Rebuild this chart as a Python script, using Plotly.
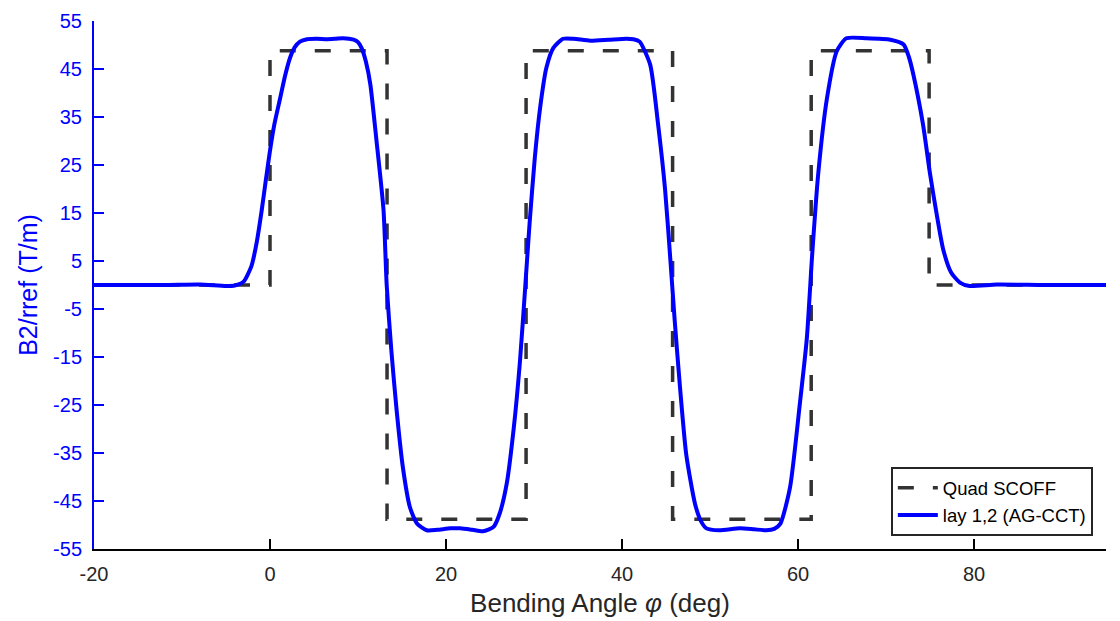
import plotly.graph_objects as go

# Quad SCOFF step profile (dashed)
quad_x = [-20, 0, 0, 13.3, 13.3, 29.1, 29.1, 45.75, 45.75, 61.5, 61.5, 74.9, 74.9, 95]
quad_y = [0, 0, 48.8, 48.8, -48.8, -48.8, 48.8, 48.8, -48.8, -48.8, 48.8, 48.8, 0, 0]

# lay 1,2 (AG-CCT) field profile (solid blue)
cct_x = [-20, -12, -8, -5, -4, -3.0, -2.1, -1.5, -0.94, -0.5, 0, 0.5, 1.14, 1.7, 2.27,
         2.8, 3.4, 4.2, 5.3, 6.5, 7.5, 8.3, 9.5, 10.0, 10.4, 10.9, 11.4, 12.1, 12.9,
         13.26, 13.8, 14.4, 15.1, 15.9, 16.7, 17.8, 19.0, 20.5, 21.6, 23.0, 24.2, 25.4,
         26.1, 26.9, 27.7, 28.4, 29.0, 29.5, 30.1, 30.7, 31.4, 32.2, 33.3, 34.5, 36.4,
         38.5, 40.5, 41.3, 42.0, 43.2, 44.1, 44.9, 45.6, 46.0, 46.6, 47.3, 48.3, 49.0,
         49.6, 51.0, 53.4, 55.0, 56.4, 57.3, 58.0, 59.1, 60.2, 61.0, 61.6, 62.3, 63.3,
         64.4, 65.5, 67.8, 70.5, 72.0, 72.6, 73.1, 74.2, 75.0, 75.8, 76.5, 77.4, 78.4,
         79.5, 82.6, 88, 95]
cct_y = [0, 0, 0.1, -0.2, -0.1, 0.7, 4.0, 9.0, 15.6, 21.5, 28.0, 33.5, 38.8, 43.5, 47.3,
         49.5, 50.7, 51.2, 51.3, 51.2, 51.3, 51.4, 51.1, 50.6, 49.4, 46.5, 41.8, 30.1, 15.6,
         0.0, -13.9, -26.3, -38.0, -46.3, -49.7, -51.1, -51.0, -50.7, -50.7, -51.0, -51.3, -50.4,
         -47.6, -41.4, -29.8, -16.0, -0.5, 12.9, 26.7, 37.0, 45.2, 49.4, 51.3, 51.3, 50.9,
         51.1, 51.3, 51.2, 50.7, 45.9, 33.5, 19.8, 2.6, -7.7, -21.5, -35.3, -45.6, -49.3,
         -50.7, -51.1, -50.7, -50.9, -51.1, -50.8, -49.7, -42.1, -24.9, -11.2, 6.0, 23.2, 39.0,
         48.7, 51.4, 51.4, 51.1, 50.1, 47.5, 43.9, 33.5, 23.2, 14.3, 7.4, 2.6, 0.5,
         -0.2, 0.1, 0, 0]

x_ticks = [-20, 0, 20, 40, 60, 80]
y_ticks = [-55, -45, -35, -25, -15, -5, 5, 15, 25, 35, 45, 55]

FONT = "Liberation Sans, Arial, Helvetica, sans-serif"

fig = go.Figure()
fig.add_trace(go.Scatter(
    x=quad_x, y=quad_y, mode="lines", name="Quad SCOFF",
    line=dict(color="#333333", width=3.5, dash="16px,19px"),
))
fig.add_trace(go.Scatter(
    x=cct_x, y=cct_y, mode="lines", name="lay 1,2 (AG-CCT)",
    line=dict(color="#0000ff", width=4, shape="spline", smoothing=0.6),
))

fig.update_layout(
    width=1120, height=621,
    margin=dict(l=86, r=22, t=13, b=80),
    paper_bgcolor="white", plot_bgcolor="white",
    font=dict(family=FONT, size=20, color="#262626"),
    showlegend=True,
    legend=dict(
        x=0.987, y=0.024, xanchor="right", yanchor="bottom",
        bgcolor="white", bordercolor="#262626", borderwidth=2,
        font=dict(family=FONT, size=18.5, color="#000000"),
        tracegroupgap=0, itemwidth=40,
    ),
    xaxis=dict(
        range=[-20, 95], tickvals=x_ticks, ticktext=[str(v) for v in x_ticks],
        ticks="inside", ticklen=10, tickwidth=2, tickcolor="#000000",
        showline=True, linecolor="#000000", linewidth=2,
        showgrid=False, zeroline=False, mirror=False, automargin=False,
        ticklabelstandoff=6, ticklabeloverflow="allow",
        tickfont=dict(family=FONT, size=20, color="#262626"),
        title=dict(text="Bending Angle <i>φ</i> (deg)", standoff=10,
                   font=dict(family=FONT, size=26, color="#262626")),
    ),
    yaxis=dict(
        range=[-55, 55], tickvals=y_ticks, ticktext=[str(v) for v in y_ticks],
        ticks="inside", ticklen=10, tickwidth=2, tickcolor="#0000ff",
        showline=True, linecolor="#0000ff", linewidth=2,
        showgrid=False, zeroline=False, mirror=False, automargin=False,
        ticklabelstandoff=6, ticklabeloverflow="allow",
        tickfont=dict(family=FONT, size=20, color="#0000ff"),
        title=dict(text="B2/rref (T/m)", standoff=8,
                   font=dict(family=FONT, size=25, color="#0000ff")),
    ),
)

fig.write_html("out.html")
